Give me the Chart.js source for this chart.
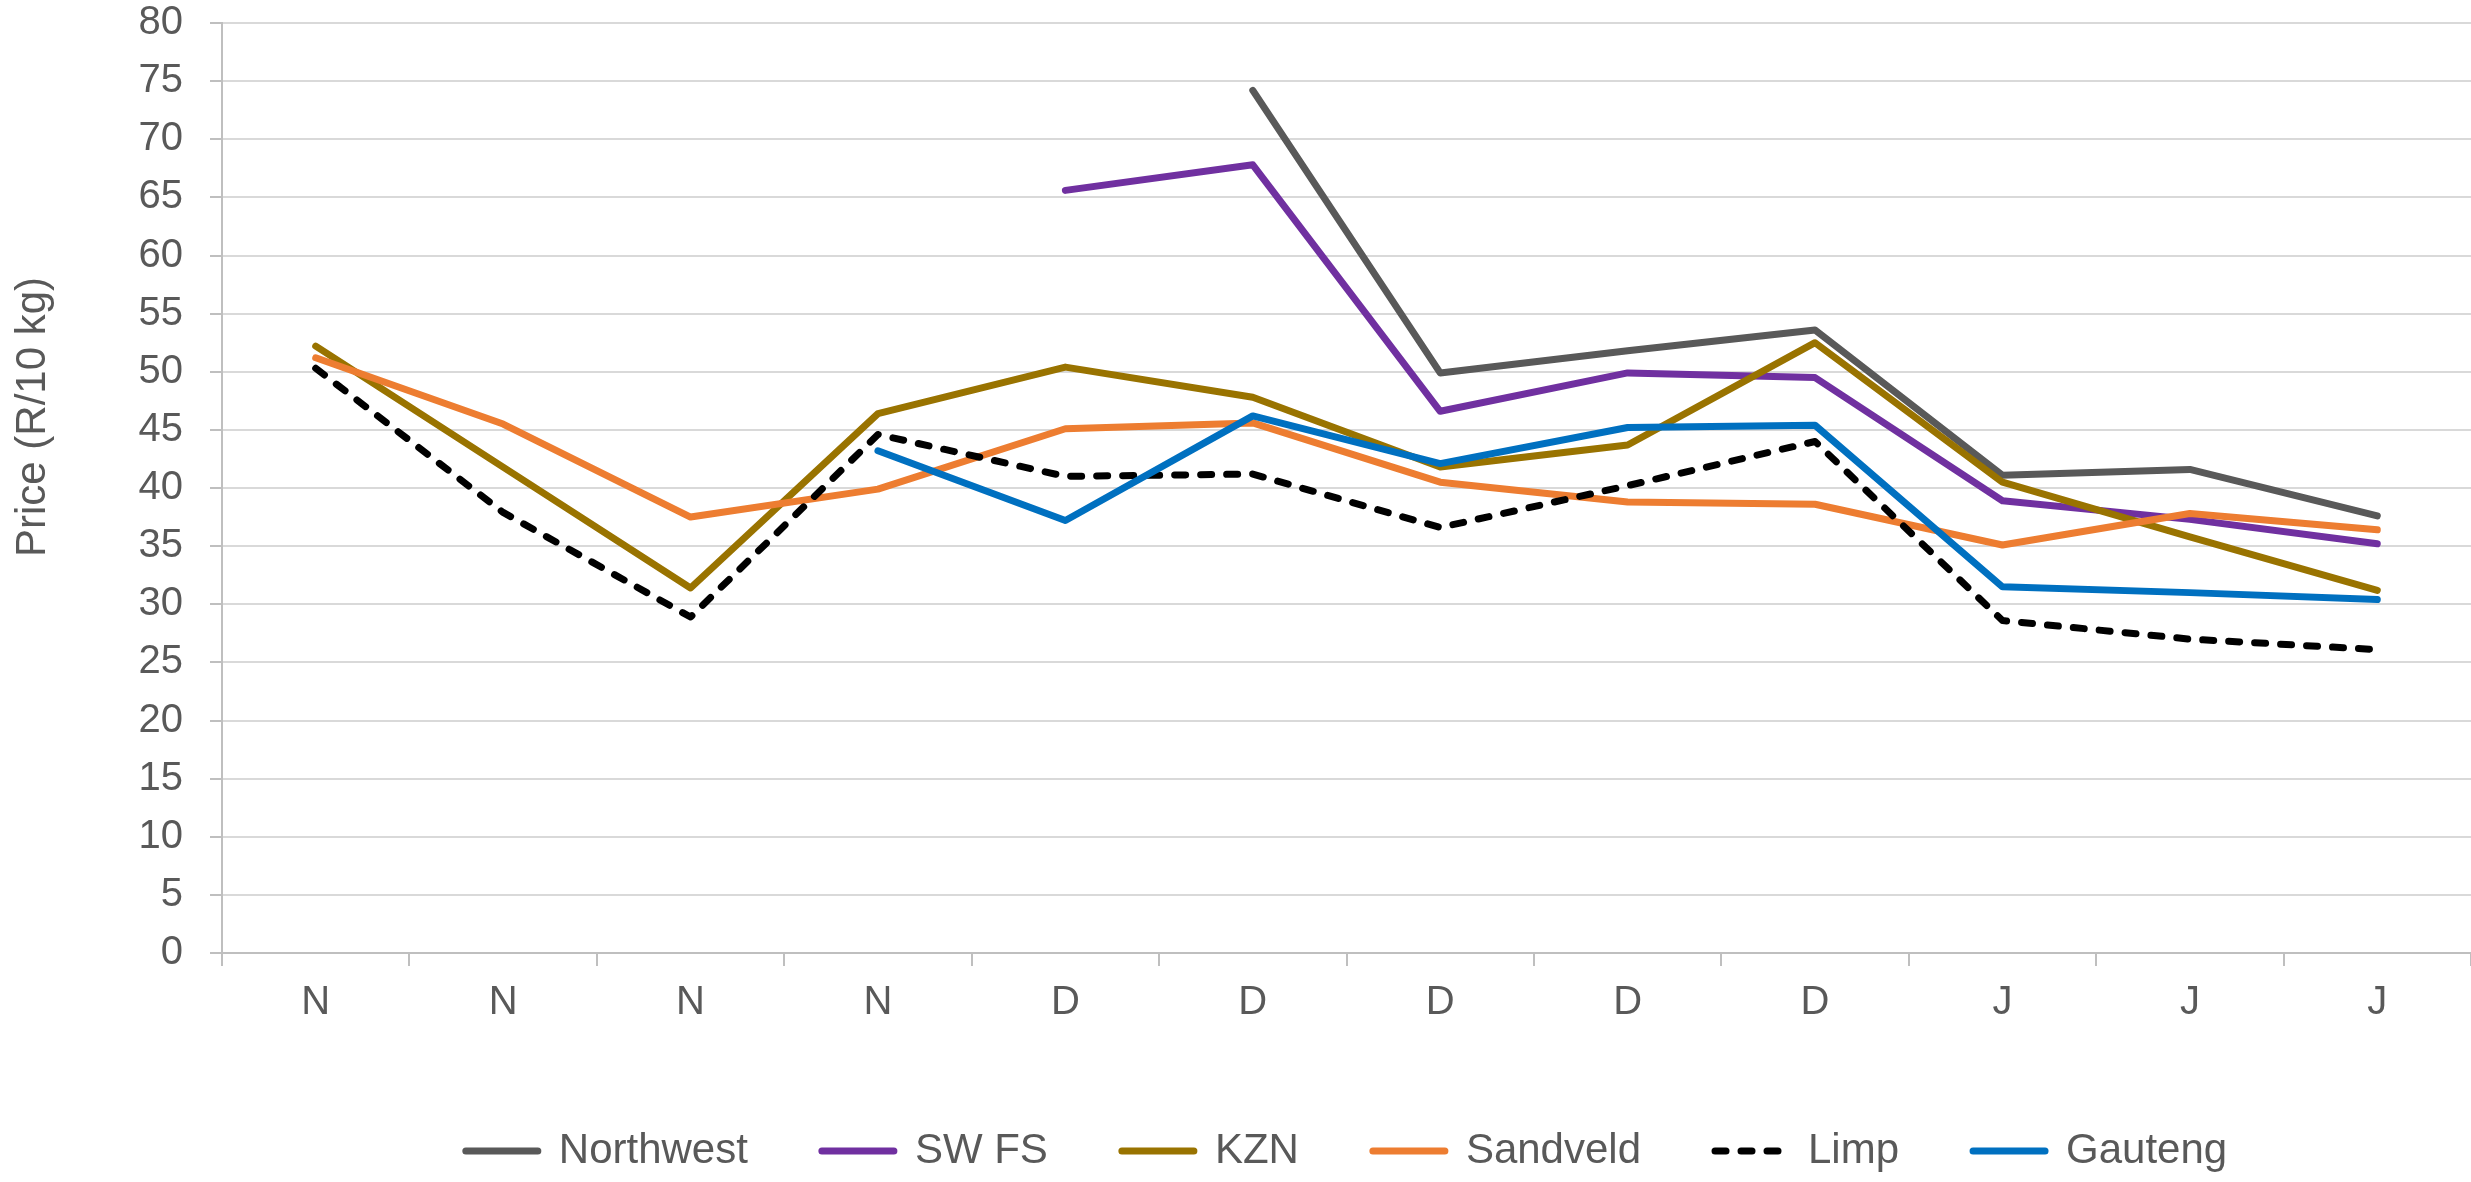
<!DOCTYPE html>
<html lang="en">
<head>
    <meta charset="UTF-8">
    <title>Price (R/10 kg)</title>
    <script src="https://cdn.jsdelivr.net/npm/chart.js"></script>
    <style>
        html, body { margin: 0; padding: 0; background: #ffffff; }
        #priceChart { display: block; }
    </style>
</head>
<body>
    <canvas id="priceChart" width="2471" height="1182"></canvas>

    <script>
        // Month labels along the x axis
        const categories = ['N', 'N', 'N', 'N', 'D', 'D', 'D', 'D', 'D', 'J', 'J', 'J'];

        // Prices per region (R/10 kg), null where there was no price
        const northwest = [null, null, null, null, null, 74.2, 49.9, 51.8, 53.6, 41.1, 41.6, 37.6];
        const swFs      = [null, null, null, null, 65.6, 67.8, 46.6, 49.9, 49.5, 38.9, 37.3, 35.2];
        const kzn       = [52.2, 41.8, 31.4, 46.4, 50.4, 47.8, 41.8, 43.7, 52.5, 40.5, 35.8, 31.2];
        const sandveld  = [51.2, 45.5, 37.5, 39.9, 45.1, 45.6, 40.5, 38.8, 38.6, 35.1, 37.8, 36.4];
        const limp      = [50.3, 37.9, 28.9, 44.6, 41.0, 41.2, 36.6, 40.2, 44.0, 28.6, 27.0, 26.1];
        const gauteng   = [null, null, null, 43.2, 37.2, 46.2, 42.1, 45.2, 45.4, 31.5, 31.0, 30.4];

        const yMin = 0;
        const yMax = 80;
        const yStep = 5;

        const textColor = '#595959';
        const fontFamily = "'Liberation Sans', Arial, sans-serif";
        Chart.defaults.font.family = fontFamily;
        Chart.defaults.font.size = 40;
        Chart.defaults.color = textColor;

        function series(label, data, color, order, dash) {
            return {
                label: label,
                data: data,
                borderColor: color,
                backgroundColor: color,
                borderWidth: 7,
                borderDash: dash || [],
                borderCapStyle: 'round',
                borderJoinStyle: 'round',
                pointRadius: 0,
                pointHoverRadius: 0,
                pointStyle: 'line',
                tension: 0,
                spanGaps: false,
                order: order
            };
        }

        // legend samples should use the line's own width and dash
        function legendLabels(chart) {
            const items = Chart.defaults.plugins.legend.labels.generateLabels(chart);
            return items.map(item => {
                const ds = chart.data.datasets[item.datasetIndex];
                item.lineWidth = ds.borderWidth;
                item.lineDash = ds.borderDash;
                item.lineCap = 'round';
                item.strokeStyle = ds.borderColor;
                item.fillStyle = ds.borderColor;
                return item;
            });
        }

        // rotated y axis title, sits a little above the middle like the original
        const yTitlePlugin = {
            id: 'yTitle',
            afterDraw(chart) {
                const ctx = chart.ctx;
                ctx.save();
                ctx.translate(33, 417);
                ctx.rotate(-Math.PI / 2);
                ctx.font = '42px ' + fontFamily;
                ctx.fillStyle = textColor;
                ctx.textAlign = 'center';
                ctx.textBaseline = 'middle';
                ctx.fillText('Price (R/10 kg)', 0, 0);
                ctx.restore();
            }
        };

        new Chart(document.getElementById('priceChart').getContext('2d'), {
            type: 'line',
            data: {
                labels: categories,
                datasets: [
                    series('Northwest', northwest, '#595959', 6),
                    series('SW FS', swFs, '#7030A0', 5),
                    series('KZN', kzn, '#997300', 4),
                    series('Sandveld', sandveld, '#ED7D31', 3),
                    series('Limp', limp, '#000000', 2, [11, 15]),
                    series('Gauteng', gauteng, '#0070C0', 1)
                ]
            },
            options: {
                responsive: false,
                animation: false,
                layout: { padding: { left: 0, right: 0, top: 23, bottom: 0 } },
                scales: {
                    x: {
                        offset: true,
                        grid: {
                            offset: true,
                            drawOnChartArea: false,
                            drawTicks: true,
                            tickLength: 13,
                            color: '#BFBFBF',
                            lineWidth: 2
                        },
                        border: { color: '#BFBFBF', width: 2 },
                        ticks: { padding: 13, maxRotation: 0, autoSkip: false },
                        afterFit: (scale) => { scale.height = 103; }
                    },
                    y: {
                        min: yMin,
                        max: yMax,
                        grid: {
                            color: '#D9D9D9',
                            lineWidth: 2,
                            tickLength: 12,
                            tickColor: '#BFBFBF'
                        },
                        border: { color: '#BFBFBF', width: 2 },
                        ticks: { stepSize: yStep, padding: 27 },
                        afterFit: (scale) => {
                            scale.width = 222;
                            scale.paddingTop = 0;
                            scale.paddingBottom = 0;
                        }
                    }
                },
                plugins: {
                    tooltip: { enabled: false },
                    legend: {
                        position: 'bottom',
                        fullSize: false,
                        labels: {
                            usePointStyle: true,
                            pointStyleWidth: 72,
                            padding: 74,
                            color: textColor,
                            font: { size: 42 },
                            generateLabels: legendLabels,
                            sort: (a, b) => a.datasetIndex - b.datasetIndex
                        }
                    }
                }
            },
            plugins: [yTitlePlugin]
        });
    </script>
</body>
</html>
